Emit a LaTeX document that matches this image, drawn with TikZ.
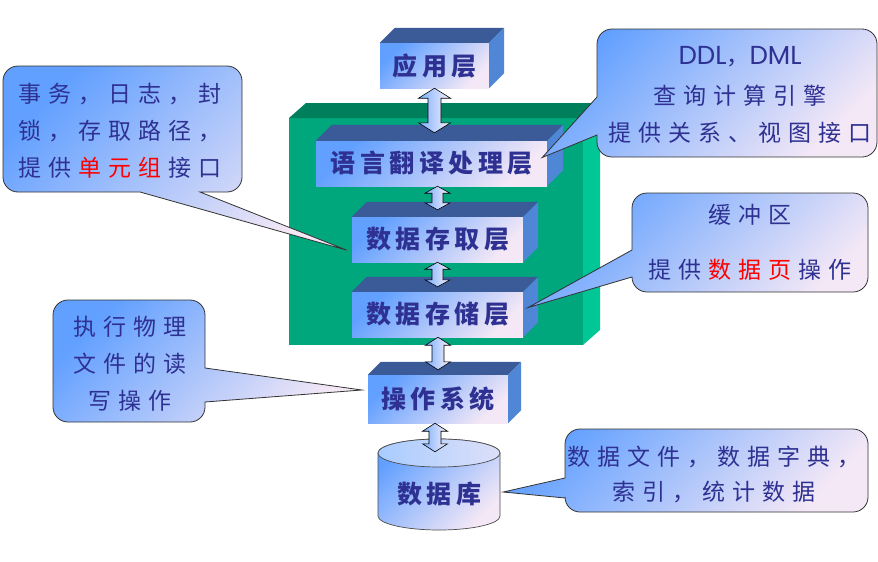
\documentclass[tikz,border=0pt]{standalone}
\usepackage{fontspec}
\usetikzlibrary{calc}
\newfontfamily\cjkbox[LetterSpace=18]{Noto Sans CJK SC}
\newfontfamily\cjktxt[LetterSpace=30]{Noto Sans CJK SC}
\newfontfamily\latsans{Poppins}
\newcommand\lsp{\hspace{6.9pt}}
\definecolor{txtblue}{HTML}{2E3192}
\definecolor{cblue}{HTML}{62A0FF}
\definecolor{cpale}{HTML}{F4E8F6}
\definecolor{boxtopc}{HTML}{3A5A98}
\definecolor{boxsidec}{HTML}{4F86D6}
\definecolor{gfront}{HTML}{00A67C}
\definecolor{gtop}{HTML}{007F5C}
\definecolor{gside}{HTML}{00C795}
\definecolor{cyltopc}{HTML}{A8CCFF}
\newcommand\boxfaces[2]{%
  \fill[boxtopc] (#1.north west) -- ++(#2,-#2) -- ([shift={(#2,-#2)}]#1.north east) -- (#1.north east) -- cycle;
  \fill[boxsidec] (#1.north east) -- ++(#2,-#2) -- ([shift={(#2,-#2)}]#1.south east) -- (#1.south east) -- cycle;}
% #1 top point, #2 bottom point, #3 head half width, #4 shaft half width, #5 head length
\newcommand\dblarrow[5]{%
  \path[arrowsty] let \p1=(#1), \p2=(#2) in
    (\x1,\y1) -- ({\x1+#3pt},{\y1-#5pt}) -- ({\x1+#4pt},{\y1-#5pt}) -- ({\x1+#4pt},{\y2+#5pt})
    -- ({\x1+#3pt},{\y2+#5pt}) -- (\x1,\y2) -- ({\x1-#3pt},{\y2+#5pt}) -- ({\x1-#4pt},{\y2+#5pt})
    -- ({\x1-#4pt},{\y1-#5pt}) -- ({\x1-#3pt},{\y1-#5pt}) -- cycle;}
\begin{document}
\begin{tikzpicture}[x=1pt,y=-1pt,
  boxfront/.style={inner sep=0pt, top color=cblue, bottom color=cpale, shading angle=45,
    font=\cjkbox\bfseries\fontsize{25}{30}\selectfont, text=txtblue},
  arrowsty/.style={draw=black, line width=0.6pt, left color=cblue!85, right color=cpale!60!white},
  callout/.style={draw=black!80, line width=0.8pt, top color=cblue, bottom color=cpale, shading angle=45},
  ctext/.style={align=center, text=txtblue, inner sep=0pt, font=\cjktxt\fontsize{23}{37}\selectfont}]
\useasboundingbox (0,0) rectangle (878,562);
\fill[white] (0,0) rectangle (878,562);
% green block
\fill[gfront] (289,118) rectangle (583,345);
\fill[gtop] (289,118) -- (306,103) -- (600,103) -- (583,118) -- cycle;
\fill[gside] (583,118) -- (600,103) -- (600,330) -- (583,345) -- cycle;
% layered boxes
\node[boxfront, minimum width=109pt, minimum height=45pt] (app) at (434.5,65.5) {应用层};
\boxfaces{app}{15}
\node[boxfront, minimum width=231pt, minimum height=45pt] (lang) at (431.5,163.5) {语言翻译处理层};
\boxfaces{lang}{16}
\node[boxfront, minimum width=171pt, minimum height=45pt] (access) at (437.5,239.5) {数据存取层};
\boxfaces{access}{15}
\node[boxfront, minimum width=171pt, minimum height=45pt] (storage) at (437.5,314.5) {数据存储层};
\boxfaces{storage}{15}
\node[boxfront, minimum width=140pt, minimum height=48pt] (os) at (438,399) {操作系统};
\boxfaces{os}{13}
% database cylinder
\path[draw=black!70, line width=0.7pt, top color=cblue, bottom color=cpale, shading angle=45]
  (378,453) -- (378,516) arc[start angle=180,end angle=0,x radius=61,y radius=14]
  -- (500,453) arc[start angle=0,end angle=-180,x radius=61,y radius=14] -- cycle;
\path[draw=black!70, line width=0.7pt, left color=cyltopc, right color=cpale!70!cyltopc]
  (439,453) ellipse[x radius=61, y radius=14];
\node[inner sep=0pt, minimum width=122pt, minimum height=72pt, font=\cjkbox\bfseries\fontsize{25}{30}\selectfont, text=txtblue] (db) at (439,494) {数据库};
% arrows
\coordinate (a1e) at ($(lang.north)+(0,-8)$);
\coordinate (a2s) at (lang.south -| access.north);
\coordinate (a2e) at ($(access.north)+(0,-7)$);
\coordinate (a3e) at ($(storage.north)+(0,-5)$);
\coordinate (a4e) at ($(os.north)+(0,-5)$);
\coordinate (a5s) at ($(os.south)+(-3,0)$);
\coordinate (a5e) at ($(db.north)+(-4,-6)$);
\dblarrow{app.south}{a1e}{16}{6.5}{10}
\dblarrow{a2s}{a2e}{12.5}{5.5}{7}
\dblarrow{access.south}{a3e}{12.5}{5.5}{7}
\dblarrow{storage.south -| os.north}{a4e}{12.5}{6}{8}
\dblarrow{a5s}{a5e}{12.5}{6}{8}
% callout tips
\coordinate (tA) at ($(access.south west)+(-5,-12)$);
\coordinate (tB) at ($(lang.east)+(-5,-6)$);
\coordinate (tC) at ($(storage.east)+(5,-7)$);
\coordinate (tD) at ($(os.west)+(-6,-9)$);
\coordinate (tE) at ($(db.east)+(3,-2)$);
% callout A
\path[callout] (18,66) -- (227,66) arc[start angle=-90,end angle=0,radius=15] -- (242,177)
  arc[start angle=0,end angle=90,radius=15] -- (200,192) -- (tA) -- (140,192) -- (18,192)
  arc[start angle=90,end angle=180,radius=15] -- (3,81) arc[start angle=180,end angle=270,radius=15] -- cycle;
\node[ctext] (ta) at (120,131) {事务，日志，封\\锁，存取路径，\\提供\lsp\textcolor{red}{单元组}\lsp 接口};
% callout B
\path[callout] (612,29) -- (862,29) arc[start angle=-90,end angle=0,radius=15] -- (877,142)
  arc[start angle=0,end angle=90,radius=15] -- (612,157) arc[start angle=90,end angle=180,radius=15]
  -- (597,135) -- (tB) -- (597,97) -- (597,44) arc[start angle=180,end angle=270,radius=15] -- cycle;
\node[ctext] (tb) at (740,95) {{\latsans\fontsize{26}{30}\selectfont DDL}，{\latsans\fontsize{26}{30}\selectfont DML}\\[3pt]查询计算引擎\\提供关系、视图接口};
% callout C
\path[callout] (647,193) -- (853,193) arc[start angle=-90,end angle=0,radius=15] -- (868,277)
  arc[start angle=0,end angle=90,radius=15] -- (647,292) arc[start angle=90,end angle=180,radius=15]
  -- (tC) -- (632,250) -- (632,208) arc[start angle=180,end angle=270,radius=15] -- cycle;
\node[ctext] (tc) at (750,242) {缓冲区\\[18pt]提供\lsp\textcolor{red}{数据页}\lsp 操作};
% callout D
\path[callout] (68,300) -- (190,300) arc[start angle=-90,end angle=0,radius=15] -- (205,368)
  -- (tD) -- (205,402) -- (205,407) arc[start angle=0,end angle=90,radius=15] -- (68,422)
  arc[start angle=90,end angle=180,radius=15] -- (53,315) arc[start angle=180,end angle=270,radius=15] -- cycle;
\node[ctext] (td) at (130,364) {执行物理\\文件的读\\写操作};
% callout E
\path[callout] (580,429) -- (853,429) arc[start angle=-90,end angle=0,radius=15] -- (868,497)
  arc[start angle=0,end angle=90,radius=15] -- (580,512) arc[start angle=90,end angle=180,radius=15]
  -- (565,498) -- (tE) -- (565,478) -- (565,444) arc[start angle=180,end angle=270,radius=15] -- cycle;
\node[ctext, font=\cjktxt\fontsize{23}{35}\selectfont] (te) at (714,474) {数据文件，数据字典，\\索引，统计数据};
\end{tikzpicture}
\end{document}
